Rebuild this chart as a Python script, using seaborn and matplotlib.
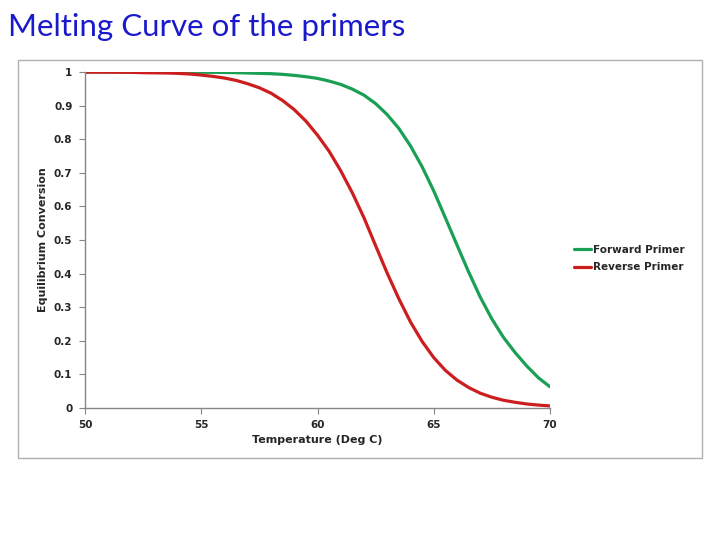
import matplotlib
matplotlib.use("Agg")
import matplotlib.pyplot as plt
from matplotlib.patches import Rectangle
from matplotlib.lines import Line2D
import seaborn as sns
import pandas as pd

temperature = [50, 50.5, 51, 51.5, 52, 52.5, 53, 53.5, 54, 54.5, 55, 55.5, 56, 56.5,
               57, 57.5, 58, 58.5, 59, 59.5, 60, 60.5, 61, 61.5, 62, 62.5, 63, 63.5,
               64, 64.5, 65, 65.5, 66, 66.5, 67, 67.5, 68, 68.5, 69, 69.5, 70]
forward_primer = [1.000, 1.000, 1.000, 1.000, 1.000, 1.000, 0.9998, 0.9997, 0.9996, 0.9995,
                  0.9993, 0.999, 0.9986, 0.998, 0.997, 0.996, 0.995, 0.993, 0.990, 0.986,
                  0.981, 0.973, 0.963, 0.949, 0.931, 0.906, 0.873, 0.832, 0.780, 0.718,
                  0.646, 0.566, 0.485, 0.405, 0.330, 0.265, 0.210, 0.165, 0.125, 0.090, 0.063]
reverse_primer = [0.9997, 0.9996, 0.9995, 0.9993, 0.999, 0.998, 0.9975, 0.997, 0.996, 0.994,
                  0.991, 0.987, 0.982, 0.975, 0.965, 0.953, 0.937, 0.915, 0.888, 0.854,
                  0.812, 0.764, 0.706, 0.640, 0.566, 0.483, 0.401, 0.325, 0.256, 0.198,
                  0.150, 0.112, 0.083, 0.061, 0.044, 0.032, 0.023, 0.017, 0.012, 0.0087, 0.0062]
series_names = ["Forward Primer", "Reverse Primer"]
x_ticks = [50, 55, 60, 65, 70]
y_ticks = [0, 0.1, 0.2, 0.3, 0.4, 0.5, 0.6, 0.7, 0.8, 0.9, 1]
y_tick_labels = ["0", "0.1", "0.2", "0.3", "0.4", "0.5", "0.6", "0.7", "0.8", "0.9", "1"]

df = pd.DataFrame({
    "Temperature": temperature * 2,
    "Conversion": forward_primer + reverse_primer,
    "Primer": [series_names[0]] * len(temperature) + [series_names[1]] * len(temperature),
})

sns.set_theme(style="white")
plt.rcParams['font.family'] = ['DejaVu Sans']

fig = plt.figure(figsize=(7.2, 5.4), dpi=100)
fig.patch.set_facecolor("white")

# chart frame
fig.patches.append(Rectangle((18 / 720, 1 - 458 / 540), (702 - 18) / 720, (458 - 60) / 540,
                             transform=fig.transFigure, fill=False,
                             edgecolor="#b0b0b0", linewidth=1.0, zorder=0))

fig.text(8 / 720, 1 - 27 / 540, "Melting Curve of the primers", color="#1a1acc",
         fontsize=22.5, family="Lato", va="center", ha="left")

ax = fig.add_axes([85 / 720, 1 - 408 / 540, (550 - 85) / 720, (408 - 72) / 540])
palette = {series_names[0]: "#1aa055", series_names[1]: "#cc1e1e"}
sns.lineplot(data=df, x="Temperature", y="Conversion", hue="Primer", palette=palette,
             linewidth=2.3, ax=ax, legend=False)

ax.set_xlim(50, 70)
ax.set_ylim(0, 1)
ax.set_xticks(x_ticks)
ax.set_xticklabels([str(t) for t in x_ticks])
ax.set_yticks(y_ticks)
ax.set_yticklabels(y_tick_labels)
for s in ["top", "right"]:
    ax.spines[s].set_visible(False)
for s in ["left", "bottom"]:
    ax.spines[s].set_color("#868686")
    ax.spines[s].set_linewidth(1.0)
ax.tick_params(axis="both", which="major", direction="out", length=4, width=0.8,
               color="#868686", labelsize=7.5, pad=5, left=True, bottom=True)
for lab in ax.get_xticklabels() + ax.get_yticklabels():
    lab.set_fontweight("bold")
ax.set_xlabel("Temperature (Deg C)", fontsize=8, fontweight="bold", labelpad=3)
ax.set_ylabel("Equilibrium Conversion", fontsize=8, fontweight="bold", labelpad=4)

handles = [Line2D([0], [0], color=palette[n], linewidth=2.3) for n in series_names]
leg = fig.legend(handles, series_names, loc="center left",
                 bbox_to_anchor=(565 / 720, 1 - 258.5 / 540), frameon=False,
                 handlelength=1.6, handletextpad=0.2, labelspacing=0.75,
                 prop={"size": 7.5, "weight": "bold"})

fig.savefig("out.png", dpi=100)
